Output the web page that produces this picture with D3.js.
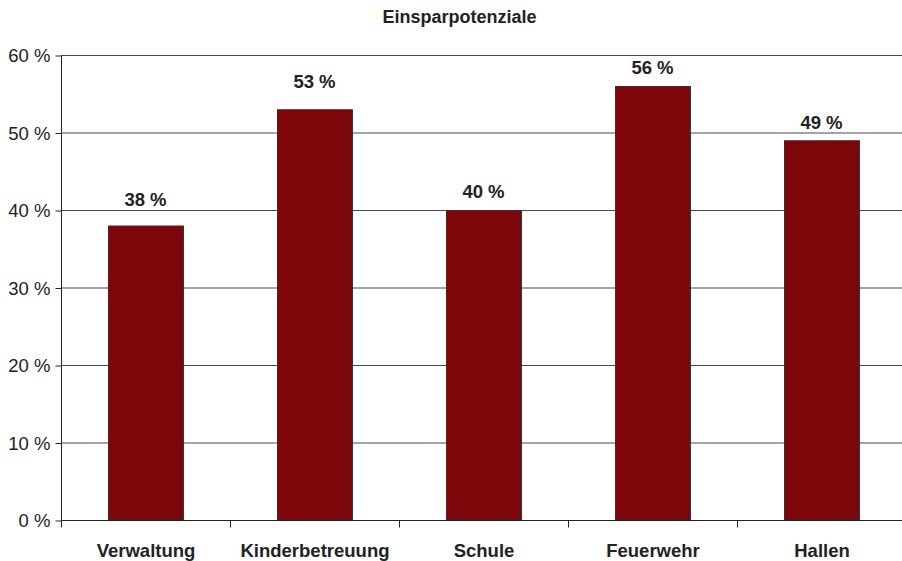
<!DOCTYPE html>
<html><head><meta charset="utf-8">
<script src="https://cdn.jsdelivr.net/npm/d3@7"></script>
<style>
html,body{margin:0;padding:0;background:#fff;}
svg{display:block;font-family:"Liberation Sans",Arial,sans-serif;}
</style></head>
<body>
<svg id="chart" width="902" height="561"></svg>
<script>
const categories = ["Verwaltung","Kinderbetreuung","Schule","Feuerwehr","Hallen"];
const values = [38,53,40,56,49];
const yTicks = [0,10,20,30,40,50,60];
const title = "Einsparpotenziale";
// label gaps above bars (styling, px)
const labelGap = [20,21,12.5,12,11];

const svg = d3.select("#chart");
const plotLeft = 61, plotTop = 55, plotBottom = 520, bandW = 169;
const x = d3.scaleBand().domain(categories).range([plotLeft, plotLeft + bandW*categories.length]).paddingInner(0.556).paddingOuter(0.278);
const y = d3.scaleLinear().domain([0,60]).range([plotBottom, plotTop]);

// gridlines
svg.append("g").selectAll("line").data(yTicks.filter(d=>d>0)).join("line")
  .attr("x1", plotLeft).attr("x2", 910)
  .attr("y1", d=>y(d)+0.5).attr("y2", d=>y(d)+0.5)
  .attr("stroke","#4a4a4a").attr("stroke-width",1.2);

// bars
svg.append("g").selectAll("rect").data(values).join("rect")
  .attr("x",(d,i)=>Math.round(x(categories[i]))+0.5)
  .attr("y",d=>y(d)+0.5)
  .attr("width",x.bandwidth())
  .attr("height",d=>plotBottom-y(d))
  .attr("fill","#7d060a").attr("stroke","#333").attr("stroke-width",1);

// y axis
const yAxis = d3.axisLeft(y).tickValues(yTicks).tickSize(6).tickPadding(5).tickFormat(d=>d+" %");
const gy = svg.append("g").attr("transform",`translate(${plotLeft+0.5},0.5)`).call(yAxis);
gy.select(".domain").attr("stroke","#222").attr("d",`M0,${plotTop}V${plotBottom}`);
gy.selectAll(".tick line").attr("stroke","#222");
gy.selectAll(".tick text").attr("font-size",18.5).attr("fill","#222").attr("font-family","Liberation Sans, Arial, sans-serif").attr("dy","0.35em");

// x axis
const xb = d3.scaleLinear().domain([0,categories.length]).range([plotLeft, plotLeft+bandW*categories.length]);
const gx = svg.append("g").attr("transform",`translate(0.5,${plotBottom+0.5})`);
gx.append("line").attr("x1",plotLeft).attr("x2",910).attr("stroke","#222");
gx.selectAll("line.t").data(d3.range(categories.length+1)).join("line").attr("class","t")
  .attr("x1",d=>xb(d)).attr("x2",d=>xb(d)).attr("y1",0).attr("y2",7).attr("stroke","#222");
gx.selectAll("text").data(categories).join("text")
  .attr("x",d=>x(d)+x.bandwidth()/2).attr("y",36)
  .attr("text-anchor","middle").attr("font-size",18.5).attr("font-weight","bold").attr("fill","#222")
  .text(d=>d);

// value labels
svg.append("g").selectAll("text").data(values).join("text")
  .attr("x",(d,i)=>x(categories[i])+x.bandwidth()/2)
  .attr("y",(d,i)=>y(d)-labelGap[i])
  .attr("text-anchor","middle").attr("font-size",18.5).attr("font-weight","bold").attr("fill","#222")
  .text(d=>d+" %");

// title
svg.append("text").attr("x",459.5).attr("y",23).attr("text-anchor","middle")
  .attr("font-size",18).attr("font-weight","bold").attr("fill","#222").text(title);
</script>
</body></html>
